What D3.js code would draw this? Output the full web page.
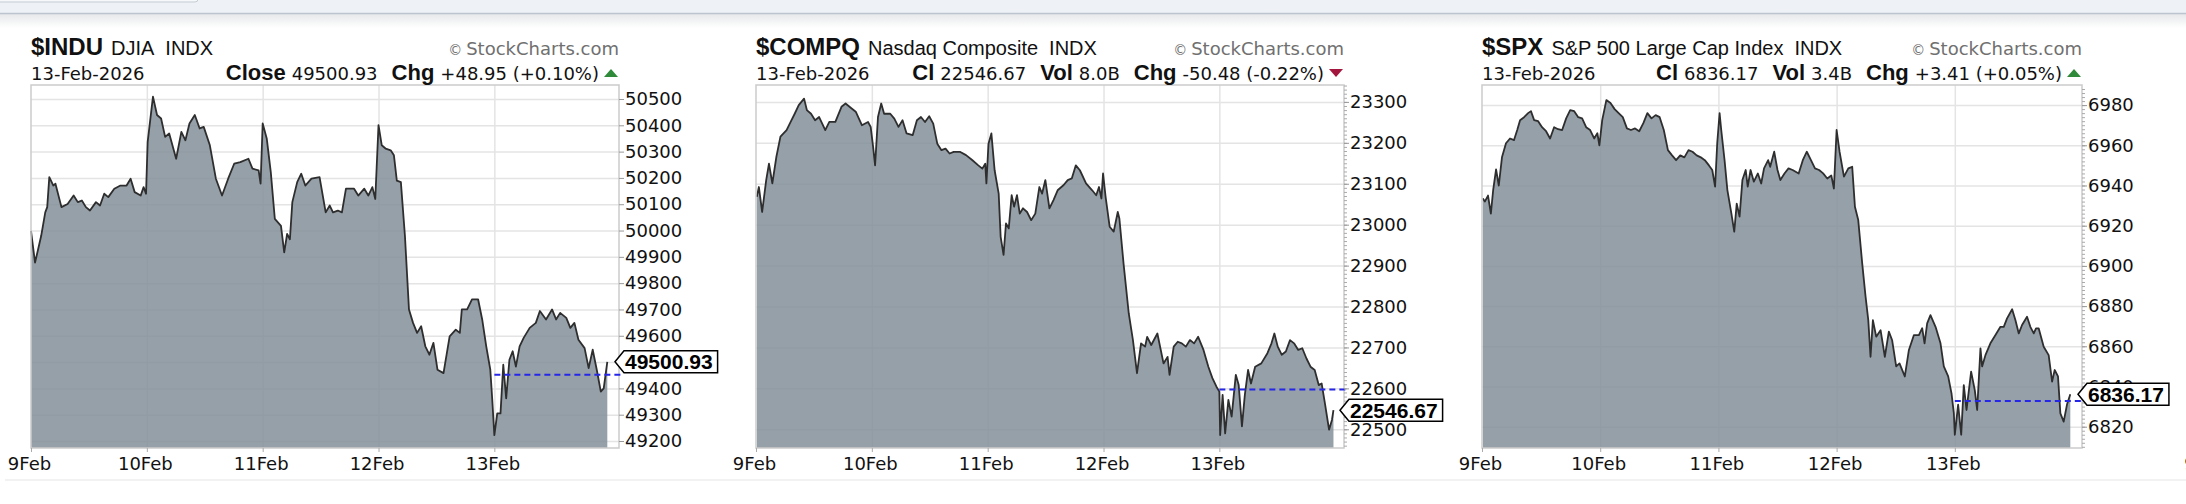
<!DOCTYPE html>
<html>
    <head>
        <title>Intraday Index Charts</title>
        <meta charset="utf-8">
        <script src="https://d3js.org/d3.v7.min.js"></script>
        <style>
            body { margin: 0; background: #fff; }
            svg { display: block; }
        </style>
    </head>
    <body>
        <div id="container"></div>
        <script>
        // Header texts
        const symbols = ["$INDU", "$COMPQ", "$SPX"]
        const names = ["DJIA", "Nasdaq Composite", "S&P 500 Large Cap Index"]
        const exchange = "INDX"
        const dateLabel = "13-Feb-2026"
        const closeLabels = ["Close", "Cl", "Cl"]
        const closes = [49500.93, 22546.67, 6836.17]
        const changes = [48.95, -50.48, 3.41]
        const pctChanges = [0.10, -0.22, 0.05]
        const volumes = [null, "8.0B", "3.4B"]
        const dayLabels = ["9Feb", "10Feb", "11Feb", "12Feb", "13Feb"]

        // Tick labels
        const induTicks = [50500, 50400, 50300, 50200, 50100, 50000, 49900, 49800, 49700, 49600, 49500, 49400, 49300, 49200]
        const compTicks = [23300, 23200, 23100, 23000, 22900, 22800, 22700, 22600, 22500]
        const spxTicks = [6980, 6960, 6940, 6920, 6900, 6880, 6860, 6840, 6820]

        // $INDU intraday (time in trading days from 9 Feb open)
        const induTime = [
            0, .035, .088, .123, .140, .158, .193, .211, .263, .316, .368, .404, .439, .474, .509, .561, .596, .632, .667, .719, .772, .825, .860, .895, .947, .972, .993,
            1.007, 1.053, 1.088, 1.123, 1.158, 1.193, 1.253, 1.298, 1.333, 1.368, 1.414, 1.456, 1.491, 1.544, 1.596, 1.649, 1.702, 1.754, 1.807, 1.877, 1.912, 1.965, 1.982,
            2.0, 2.035, 2.070, 2.105, 2.158, 2.186, 2.211, 2.235, 2.256, 2.298, 2.333, 2.368, 2.421, 2.491, 2.544, 2.579, 2.607, 2.649, 2.684, 2.719, 2.789, 2.825, 2.877, 2.912, 2.947, 2.972,
            3.0, 3.028, 3.063, 3.105, 3.133, 3.158, 3.193, 3.228, 3.263, 3.298, 3.333, 3.368, 3.404, 3.439, 3.474, 3.509, 3.561, 3.614, 3.667, 3.702, 3.719, 3.765, 3.807, 3.860, 3.895, 3.930, 3.965, 3.982,
            4.0, 4.025, 4.053, 4.077, 4.102, 4.130, 4.158, 4.186, 4.218, 4.253, 4.305, 4.358, 4.393, 4.446, 4.498, 4.533, 4.568, 4.621, 4.656, 4.691, 4.726, 4.779, 4.814, 4.849, 4.884, 4.919, 4.944, 4.975
        ]
        const induValue = [
            49999, 49878, 49980, 50069, 50089, 50203, 50171, 50178, 50089, 50101, 50133, 50108, 50114, 50089, 50076, 50108, 50095, 50140, 50127, 50159, 50171, 50171, 50197, 50146, 50133, 50165, 50140,
            50337, 50509, 50439, 50426, 50356, 50369, 50273, 50375, 50343, 50407, 50439, 50388, 50394, 50324, 50197, 50133, 50197, 50254, 50260, 50273, 50235, 50229, 50178,
            50407, 50350, 50222, 50044, 50018, 49917, 49987, 49967, 50108, 50184, 50216, 50171, 50197, 50203, 50069, 50095, 50069, 50076, 50069, 50159, 50159, 50133, 50159, 50133, 50165, 50120,
            50401, 50324, 50311, 50305, 50286, 50190, 50184, 49980, 49700, 49649, 49611, 49636, 49560, 49528, 49573, 49471, 49458, 49598, 49623, 49611, 49700, 49700, 49738, 49738, 49662, 49560, 49471, 49356,
            49222, 49305, 49305, 49490, 49362, 49509, 49541, 49483, 49560, 49592, 49630, 49649, 49694, 49662, 49700, 49662, 49687, 49668, 49630, 49649, 49585, 49553, 49477, 49547, 49471, 49388, 49400, 49500.93
        ]

        // $COMPQ intraday
        const compTime = [
            .007, .025, .053, .088, .112, .141, .176, .211, .264, .299, .334, .369, .415, .439, .475, .510, .545, .598, .633, .685, .738, .773, .826, .861, .914, .967, .99,
            1.011, 1.028, 1.053, 1.081, 1.106, 1.159, 1.194, 1.230, 1.265, 1.300, 1.353, 1.389, 1.424, 1.459, 1.495, 1.530, 1.565, 1.601, 1.636, 1.671, 1.707, 1.760, 1.813, 1.866, 1.919, 1.954, 1.979, 1.989,
            2.007, 2.032, 2.060, 2.095, 2.112, 2.137, 2.158, 2.182, 2.207, 2.228, 2.253, 2.277, 2.305, 2.340, 2.375, 2.411, 2.446, 2.470, 2.498, 2.533, 2.568, 2.604, 2.656, 2.691, 2.726, 2.761, 2.796, 2.849, 2.902, 2.937, 2.961, 2.982, 2.996,
            3.018, 3.053, 3.088, 3.123, 3.137, 3.173, 3.218, 3.254, 3.289, 3.324, 3.359, 3.377, 3.412, 3.465, 3.518, 3.553, 3.570, 3.606, 3.641, 3.676, 3.711, 3.746, 3.782, 3.817, 3.863, 3.905, 3.940, 3.975,
            4.0, 4.007, 4.028, 4.050, 4.078, 4.106, 4.142, 4.167, 4.195, 4.220, 4.248, 4.273, 4.309, 4.362, 4.415, 4.450, 4.475, 4.504, 4.539, 4.574, 4.610, 4.645, 4.681, 4.716, 4.752, 4.787, 4.823, 4.858, 4.883, 4.911, 4.947, 4.972, 4.985
        ]
        const compValue = [
            23068, 23092, 23031, 23109, 23149, 23101, 23166, 23215, 23231, 23251, 23271, 23292, 23308, 23280, 23271, 23255, 23263, 23231, 23251, 23251, 23288, 23296, 23284, 23276, 23243, 23251, 23239,
            23190, 23145, 23263, 23296, 23271, 23271, 23259, 23239, 23255, 23223, 23219, 23255, 23263, 23251, 23265, 23247, 23198, 23182, 23186, 23174, 23178, 23178, 23170, 23158, 23145, 23137, 23149, 23101,
            23198, 23223, 23133, 23076, 22970, 22926, 23003, 22991, 23072, 23044, 23072, 23027, 23040, 23031, 23011, 23027, 23092, 23076, 23109, 23040, 23060, 23084, 23097, 23109, 23113, 23145, 23133, 23101, 23084, 23072, 23092, 23064, 23125,
            23068, 22995, 22983, 23031, 23015, 22905, 22783, 22718, 22637, 22710, 22702, 22726, 22706, 22734, 22661, 22677, 22633, 22702, 22714, 22710, 22702, 22718, 22710, 22726, 22694, 22653, 22625, 22604,
            22592, 22486, 22584, 22490, 22572, 22531, 22633, 22608, 22507, 22584, 22645, 22612, 22653, 22661, 22686, 22710, 22734, 22702, 22682, 22690, 22718, 22710, 22694, 22698, 22673, 22653, 22645, 22608, 22612, 22564, 22499, 22523, 22546.67
        ]

        // $SPX intraday
        const spxTime = [
            .007, .024, .051, .075, .095, .119, .142, .169, .203, .237, .271, .298, .322, .356, .390, .414, .441, .475, .508, .542, .576, .610, .644, .678, .712, .746, .780, .814, .847, .881, .915, .949, .976, .993,
            1.017, 1.052, 1.087, 1.122, 1.156, 1.191, 1.226, 1.260, 1.295, 1.330, 1.365, 1.399, 1.434, 1.469, 1.503, 1.538, 1.573, 1.608, 1.642, 1.677, 1.712, 1.747, 1.781, 1.816, 1.851, 1.885, 1.920, 1.948, 1.972, 1.990,
            2.010, 2.024, 2.052, 2.076, 2.110, 2.134, 2.155, 2.179, 2.203, 2.231, 2.248, 2.272, 2.300, 2.334, 2.362, 2.386, 2.421, 2.438, 2.472, 2.500, 2.524, 2.559, 2.593, 2.628, 2.679, 2.714, 2.748, 2.783, 2.817, 2.852, 2.886, 2.921, 2.955, 2.977,
            3.0, 3.025, 3.062, 3.099, 3.132, 3.155, 3.183, 3.217, 3.245, 3.268, 3.287, 3.307, 3.335, 3.372, 3.408, 3.442, 3.470, 3.504, 3.532, 3.577, 3.611, 3.654, 3.696, 3.724, 3.744, 3.766, 3.794, 3.837, 3.879, 3.907, 3.944, 3.972, 3.992,
            4.0, 4.028, 4.054, 4.076, 4.099, 4.138, 4.169, 4.189, 4.217, 4.231, 4.259, 4.301, 4.344, 4.386, 4.414, 4.442, 4.485, 4.513, 4.541, 4.569, 4.611, 4.639, 4.668, 4.687, 4.710, 4.752, 4.794, 4.823, 4.845, 4.873, 4.893, 4.921, 4.949, 4.977
        ]
        const spxValue = [
            6933.6, 6932, 6935, 6926, 6938, 6948, 6940, 6954, 6961, 6963.4, 6962.6, 6967.6, 6972.5, 6974, 6976, 6977, 6972.5, 6972, 6969, 6967, 6963.4, 6969, 6968, 6967.6, 6973.4, 6977.5, 6977, 6974, 6973.4, 6969, 6967.6, 6963.4, 6966, 6960,
            6972.5, 6982.5, 6981, 6978, 6976, 6974, 6968.4, 6967.6, 6968.4, 6967, 6971, 6976, 6973.4, 6975, 6974, 6967.6, 6957.6, 6955, 6952.6, 6955, 6954, 6957.6, 6956.8, 6955, 6954, 6952.6, 6950, 6947.7, 6939.4, 6961,
            6976, 6967.6, 6952.6, 6937.7, 6926, 6917, 6931, 6924.5, 6942.7, 6947.7, 6939.4, 6947.7, 6941.9, 6946, 6941, 6948.5, 6952.6, 6949.3, 6956.8, 6947.7, 6942.7, 6946, 6948.5, 6947.7, 6946, 6952.6, 6956.8, 6952.6, 6948.5, 6947.7, 6946, 6943.5, 6945, 6938.5,
            6967.6, 6956.8, 6944.4, 6948.5, 6949.3, 6929.4, 6922.8, 6901, 6884.7, 6873, 6854.8, 6873, 6864.8, 6868, 6854.8, 6867.3, 6863, 6850, 6851.5, 6845, 6858, 6865.6, 6865.6, 6869, 6861.5, 6871.4, 6875.5, 6869.7, 6861.5, 6850, 6845, 6836.6, 6826.6,
            6816, 6831, 6816, 6840.7, 6828.3, 6847.4, 6838.2, 6828.3, 6859, 6850, 6855.6, 6861.5, 6865.6, 6869.7, 6869.7, 6873.9, 6878.4, 6873, 6866.4, 6870.6, 6874.7, 6869.7, 6866.4, 6868.9, 6868.9, 6859.8, 6855.6, 6842.4, 6848.2, 6845, 6826.6, 6822.5, 6831, 6836.17
        ]

        // Layout
        const w = 2186
        const h = 504
        const plotTop = 85
        const plotBottom = 448
        const days = 5.076

        const panels = [
            { left: 31, width: 588, time: induTime, value: induValue, ticks: induTicks, domain: [49173.4, 50553.2], minor: 0 },
            { left: 756, width: 588, time: compTime, value: compValue, ticks: compTicks, domain: [22454.3, 23341.3], minor: 10 },
            { left: 1482, width: 600, time: spxTime, value: spxValue, ticks: spxTicks, domain: [6809.4, 6990.0], minor: 2 }
        ]

        const labelFont = "Liberation Sans, Arial, sans-serif"
        const numFont = "DejaVu Sans, Verdana, sans-serif"

        const svg = d3.select("#container")
            .append("svg")
            .attr("width", w)
            .attr("height", h)

        // Top page band
        const defs = svg.append("defs")
        const grad = defs.append("linearGradient")
            .attr("id", "fade")
            .attr("x1", 0).attr("y1", 0).attr("x2", 0).attr("y2", 1)
        grad.append("stop").attr("offset", "0%").attr("stop-color", "#e6e8ea")
        grad.append("stop").attr("offset", "100%").attr("stop-color", "#ffffff")

        svg.append("rect").attr("x", 0).attr("y", 0).attr("width", w).attr("height", 13).attr("fill", "#eef2f6")
        svg.append("rect").attr("x", -6).attr("y", -8).attr("width", 204).attr("height", 10).attr("rx", 3)
            .attr("fill", "#f6f8fa").attr("stroke", "#c3cbd4")
        svg.append("rect").attr("x", 0).attr("y", 14).attr("width", w).attr("height", 14).attr("fill", "url(#fade)")
        svg.append("line").attr("x1", 0).attr("x2", w).attr("y1", 13.5).attr("y2", 13.5)
            .attr("stroke", "#bcc5cf").attr("stroke-width", 1.5)

        // Bottom separator
        svg.append("line").attr("x1", 5).attr("x2", w).attr("y1", 480).attr("y2", 480)
            .attr("stroke", "#eeeeee").attr("stroke-width", 1.5)

        panels.forEach((p, i) => {
            const right = p.left + p.width
            const rows = p.time.map((t, j) => ({ t: t, v: p.value[j] }))
            const prevClose = closes[i] - changes[i]

            // Scales
            const xScale = d3.scaleLinear().domain([0, days]).range([p.left, right])
            const yScale = d3.scaleLinear().domain(p.domain).range([plotBottom, plotTop])

            const g = svg.append("g")

            // Grid
            g.append("g")
                .attr("transform", "translate(" + right + ",0)")
                .call(d3.axisRight(yScale).tickValues(p.ticks).tickSize(-p.width).tickFormat(""))
                .call(a => a.select(".domain").remove())
                .call(a => a.selectAll("line").attr("stroke", "#e4e4e4").attr("stroke-width", 1.5))

            g.append("g")
                .attr("transform", "translate(0," + plotBottom + ")")
                .call(d3.axisBottom(xScale).tickValues([1, 2, 3, 4]).tickSize(-(plotBottom - plotTop)).tickFormat(""))
                .call(a => a.select(".domain").remove())
                .call(a => a.selectAll("line").attr("stroke", "#e4e4e4").attr("stroke-width", 1.5))

            // Area + line
            const area = d3.area()
                .x(d => xScale(d.t))
                .y0(plotBottom)
                .y1(d => yScale(d.v))
            const line = d3.line()
                .x(d => xScale(d.t))
                .y(d => yScale(d.v))

            g.append("path")
                .datum(rows)
                .attr("d", area)
                .attr("fill", "rgb(132,143,154)")
                .attr("fill-opacity", 0.85)

            g.append("path")
                .datum(rows)
                .attr("d", line)
                .attr("fill", "none")
                .attr("stroke", "#2e2e2e")
                .attr("stroke-width", 1.8)
                .attr("stroke-linejoin", "round")

            // Plot frame
            g.append("rect")
                .attr("x", p.left).attr("y", plotTop)
                .attr("width", p.width).attr("height", plotBottom - plotTop)
                .attr("fill", "none").attr("stroke", "#cbcbcb").attr("stroke-width", 1.5)

            // Previous close
            g.append("line")
                .attr("x1", xScale(4)).attr("x2", right + 3)
                .attr("y1", yScale(prevClose)).attr("y2", yScale(prevClose))
                .attr("stroke", "#2626e8").attr("stroke-width", 2)
                .attr("stroke-dasharray", "6,4")

            // Minor ticks
            if (p.minor) {
                g.append("g")
                    .attr("transform", "translate(" + right + ",0)")
                    .call(d3.axisRight(yScale).tickValues(d3.range(Math.ceil(p.domain[0] / p.minor) * p.minor, p.domain[1], p.minor)).tickSize(3).tickFormat(""))
                    .call(a => a.select(".domain").remove())
                    .call(a => a.selectAll("line").attr("stroke", "#aaaaaa"))
            }

            // Y axis (a label that sits right under the price tag is hidden)
            const shown = p.ticks.filter(d => Math.abs(yScale(d) - yScale(closes[i])) > 5)
            g.append("g")
                .attr("transform", "translate(" + right + ",0)")
                .call(d3.axisRight(yScale).tickValues(shown).tickSize(5).tickPadding(1).tickFormat(d3.format("d")))
                .call(a => a.select(".domain").remove())
                .attr("font-family", numFont)
                .attr("font-size", 18)
                .call(a => a.selectAll("line").attr("stroke", "#999"))
                .call(a => a.selectAll("text").attr("fill", "#111"))

            // X axis
            g.append("g")
                .attr("transform", "translate(0," + plotBottom + ")")
                .call(d3.axisBottom(xScale).tickValues([0, 1, 2, 3, 4]).tickSize(4).tickPadding(5).tickFormat(d => dayLabels[d]))
                .call(a => a.select(".domain").remove())
                .attr("font-family", numFont)
                .attr("font-size", 18)
                .call(a => a.selectAll("line").attr("stroke", "#aaa"))
                .call(a => a.selectAll("text").attr("fill", "#111").attr("dx", -2))

            // Price tag
            const tag = g.append("g")
                .attr("transform", "translate(" + (right - 4) + "," + yScale(closes[i]) + ")")
            const tagText = tag.append("text")
                .attr("x", 10)
                .attr("dy", "0.35em")
                .attr("font-family", labelFont)
                .attr("font-weight", "bold")
                .attr("font-size", 21)
                .attr("fill", "#000")
                .text(closes[i].toFixed(2))
            const tw = tagText.node().getComputedTextLength()
            tag.insert("path", "text")
                .attr("d", "M0,0L9,-11H" + (tw + 15) + "V11H9Z")
                .attr("fill", "#fff")
                .attr("stroke", "#000")
                .attr("stroke-width", 1.5)

            // Header row 1
            const title = svg.append("text")
                .attr("x", p.left)
                .attr("y", 55)
                .attr("font-family", labelFont)
                .attr("fill", "#111")
            title.append("tspan").attr("font-weight", "bold").attr("font-size", 24).text(symbols[i])
            title.append("tspan").attr("font-size", 20).attr("dx", 8).text(names[i])
            title.append("tspan").attr("font-size", 20).attr("dx", 11).text(exchange)

            const credit = svg.append("text")
                .attr("x", right)
                .attr("y", 55)
                .attr("text-anchor", "end")
                .attr("font-family", numFont)
                .attr("fill", "#707070")
            credit.append("tspan").attr("font-size", 14).text("\u00a9")
            credit.append("tspan").attr("font-size", 18).attr("dx", 4).text("StockCharts.com")

            // Header row 2
            svg.append("text")
                .attr("x", p.left)
                .attr("y", 80)
                .attr("font-family", numFont)
                .attr("font-size", 18)
                .attr("fill", "#111")
                .text(dateLabel)

            const sign = changes[i] >= 0 ? "+" : ""
            const stats = [[closeLabels[i], closes[i].toFixed(2)]]
            if (volumes[i]) stats.push(["Vol", volumes[i]])
            stats.push(["Chg", sign + changes[i].toFixed(2) + " (" + sign + pctChanges[i].toFixed(2) + "%)"])

            const info = svg.append("text")
                .attr("x", right - 20)
                .attr("y", 80)
                .attr("text-anchor", "end")
                .attr("fill", "#111")
            stats.forEach((s, k) => {
                info.append("tspan")
                    .attr("font-family", labelFont)
                    .attr("font-weight", "bold")
                    .attr("font-size", 22)
                    .attr("dx", k ? 14 : 0)
                    .text(s[0])
                info.append("tspan")
                    .attr("font-family", numFont)
                    .attr("font-size", 18)
                    .attr("dx", 6)
                    .text(s[1])
            })

            // Up / down marker
            const up = changes[i] >= 0
            svg.append("path")
                .attr("d", up
                    ? "M" + (right - 15) + ",77L" + (right - 8) + ",69L" + (right - 1) + ",77Z"
                    : "M" + (right - 15) + ",69L" + (right - 8) + ",77L" + (right - 1) + ",69Z")
                .attr("fill", up ? "#2f8a3a" : "#a3163d")
        })

        // Cut-off first label of the next panel
        svg.append("text")
            .attr("x", 2208 - 2)
            .attr("y", 470)
            .attr("text-anchor", "middle")
            .attr("font-family", numFont)
            .attr("font-size", 18)
            .attr("fill", "#111")
            .text(dayLabels[0])
        </script>
    </body>
</html>
